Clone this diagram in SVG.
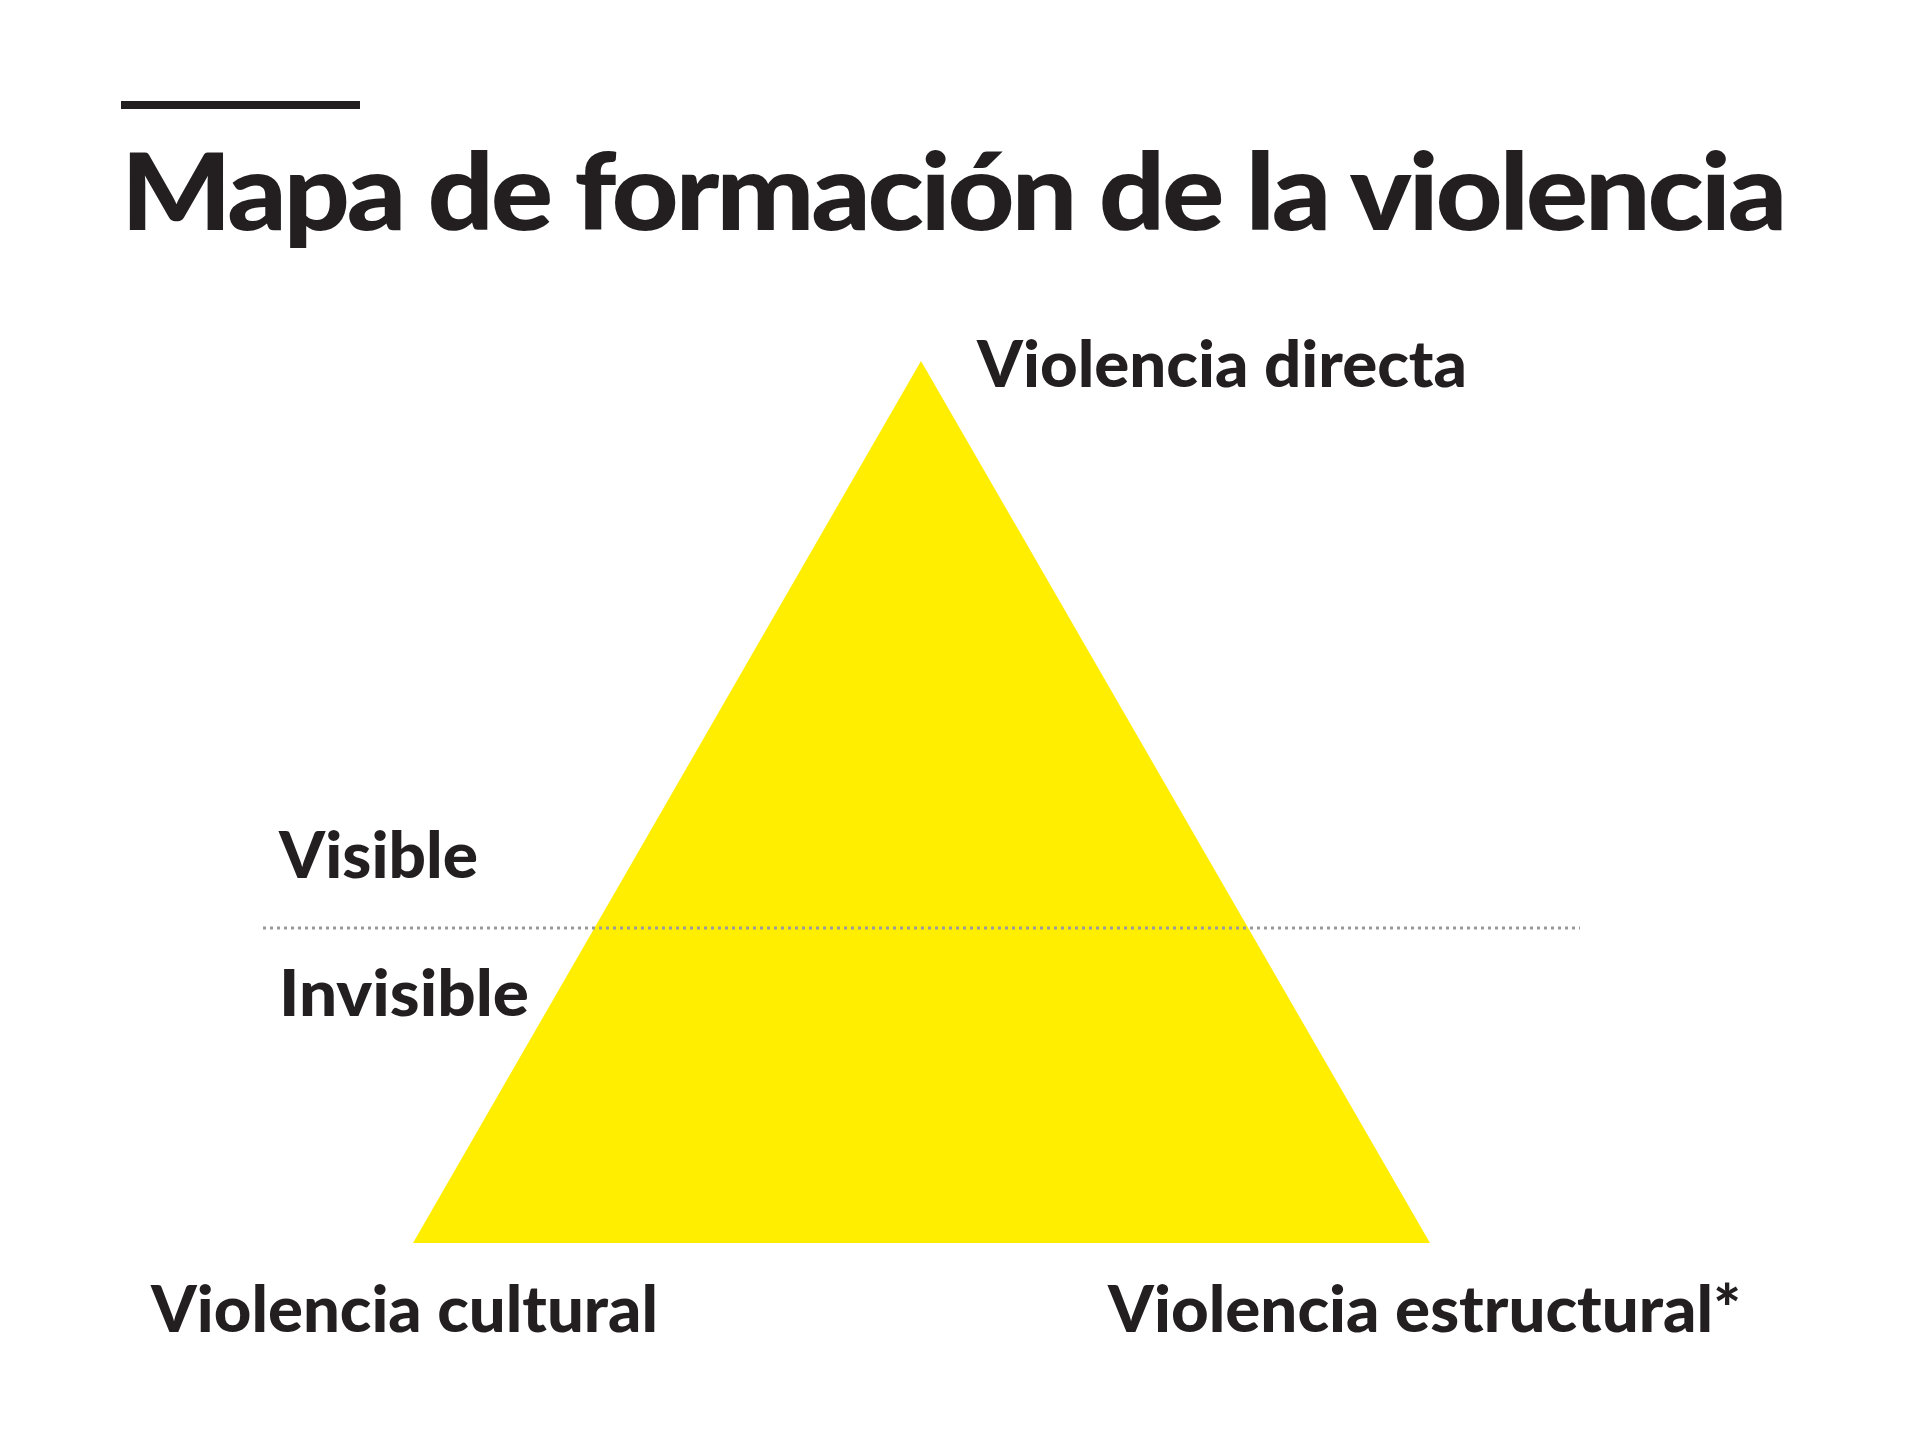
<svg xmlns="http://www.w3.org/2000/svg" width="1920" height="1450" viewBox="0 0 1920 1450">
<style>
.t{font-family:Lato,"Noto Sans","Liberation Sans",sans-serif;font-weight:900;fill:#231f20}
.l{font-size:64px}
</style>
<rect width="1920" height="1450" fill="#fff"/>
<rect x="121" y="101" width="239" height="8" fill="#231f20"/>
<text class="t" x="121" y="230" font-size="106" textLength="1663" lengthAdjust="spacingAndGlyphs" letter-spacing="-3">Mapa de formación de la violencia</text>
<g id="pyramid"><polygon points="921,361 413,1243 1430,1243" fill="#ffee00"/></g>
<g id="connectors"><line x1="263" y1="928" x2="1580" y2="928" stroke="#999" stroke-width="3" stroke-dasharray="3,4"/></g>
<g id="directa"><text class="t l" x="977" y="387" textLength="490" lengthAdjust="spacingAndGlyphs">Violencia directa</text></g>
<g id="visible"><text class="t l" x="279" y="878" textLength="199" lengthAdjust="spacingAndGlyphs">Visible</text></g>
<g id="invisible"><text class="t l" x="279" y="1016" textLength="250" lengthAdjust="spacingAndGlyphs">Invisible</text></g>
<g id="cultural"><text class="t l" x="151" y="1332" textLength="507" lengthAdjust="spacingAndGlyphs">Violencia cultural</text></g>
<g id="estructural"><text class="t l" x="1108" y="1332" textLength="633" lengthAdjust="spacingAndGlyphs">Violencia estructural*</text></g>
</svg>
